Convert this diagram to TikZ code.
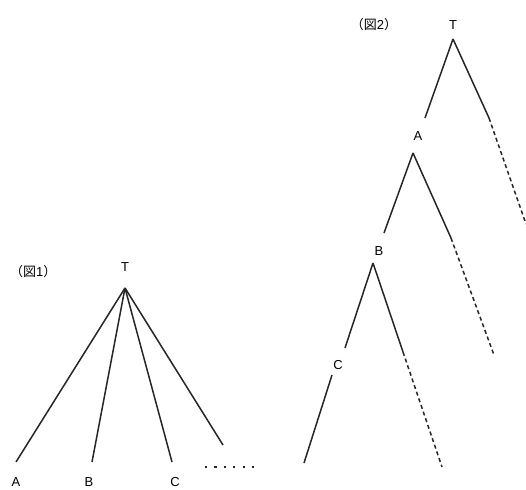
\documentclass[tikz,border=0pt]{standalone}
\usepackage{fontspec}
\setmainfont{Liberation Sans}
\newfontfamily\jpfont{Noto Sans CJK JP}
\begin{document}
\begin{tikzpicture}[x=1pt,y=-1pt,
  lbl/.style={inner sep=0pt, font=\fontsize{13}{15}\selectfont},
  edge/.style={line width=1.5pt, black!85},
  dashedge/.style={line width=1.5pt, black!85, dash pattern=on 4pt off 3pt},
  dotrow/.style={line width=2.2pt, black!85, dash pattern=on 2.2pt off 7.2pt}]
\useasboundingbox (0,0) rectangle (526,489);
% ---- Figure 1 ----
\node[lbl, anchor=west] (fig1) at (10,272) {{\jpfont （図}1{\jpfont ）}};
\node[lbl] (T1) at (125,267) {T};
\coordinate (T1a) at (125,288);
\coordinate (a1) at (16,462);
\coordinate (b1) at (92,462);
\coordinate (c1) at (172,462);
\coordinate (d1) at (223,445);
\draw[edge] (T1a) -- (a1);
\draw[edge] (T1a) -- (b1);
\draw[edge] (T1a) -- (c1);
\draw[edge] (T1a) -- (d1);
\coordinate (dots1) at (205,467);
\coordinate (dots2) at (254,467);
\draw[dotrow] (dots1) -- (dots2);
\node[lbl] (A1) at (16,482) {A};
\node[lbl] (B1) at (89,482) {B};
\node[lbl] (C1) at (175,482) {C};
% ---- Figure 2 ----
\node[lbl] (fig2) at (374,25) {{\jpfont （図}2{\jpfont ）}};
\node[lbl] (T2) at (453,25) {T};
\coordinate (T2a) at (453,39);
\coordinate (T2l) at (425,118);
\coordinate (T2r) at (489,118);
\coordinate (T2d) at (526,224);
\draw[edge] (T2a) -- (T2l);
\draw[edge] (T2a) -- (T2r);
\draw[dashedge] (T2r) -- (T2d);
\node[lbl] (A2) at (418,136) {A};
\coordinate (A2a) at (413,153);
\coordinate (A2l) at (384,233);
\coordinate (A2r) at (451,238);
\coordinate (A2d) at (494,355);
\draw[edge] (A2a) -- (A2l);
\draw[edge] (A2a) -- (A2r);
\draw[dashedge] (A2r) -- (A2d);
\node[lbl] (B2) at (379,251) {B};
\coordinate (B2a) at (373,263);
\coordinate (B2l) at (345,348);
\coordinate (B2r) at (403,352);
\coordinate (B2d) at (442,467);
\draw[edge] (B2a) -- (B2l);
\draw[edge] (B2a) -- (B2r);
\draw[dashedge] (B2r) -- (B2d);
\node[lbl] (C2) at (338,365) {C};
\coordinate (C2a) at (332,375);
\coordinate (C2l) at (304,463);
\draw[edge] (C2a) -- (C2l);
\end{tikzpicture}
\end{document}
